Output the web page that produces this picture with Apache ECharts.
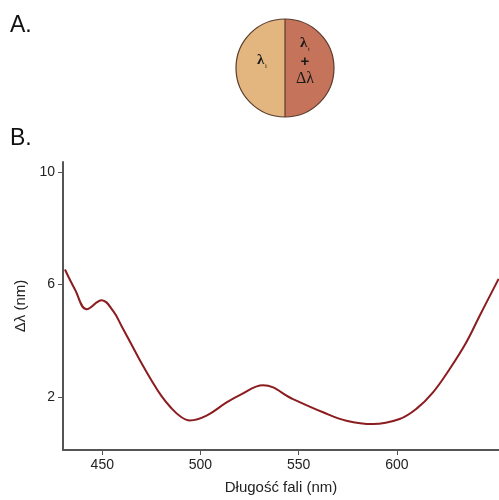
<!DOCTYPE html>
<html>
<head>
<meta charset="utf-8">
<script src="https://cdn.jsdelivr.net/npm/echarts@6/dist/echarts.min.js"></script>
<style>
html,body{margin:0;padding:0;background:#fff;}
#chart{width:499px;height:500px;}
</style>
</head>
<body>
<div id="chart"></div>
<script>
// Wavelength (nm)
const wavelengths = [431.0, 436.1, 442.1, 449.7, 455.6, 460, 465, 470, 475, 480, 485, 490, 494.6, 503.1, 513.3, 520.0, 531.9, 547.1, 562.4, 574.3, 587.8, 601.4, 609.9, 618.4, 626.8, 635.3, 642.1, 651.8];
// Δλ (nm)
const deltaLambda = [6.53, 5.82, 5.12, 5.44, 5.05, 4.5, 3.85, 3.2, 2.6, 2.05, 1.62, 1.3, 1.17, 1.34, 1.81, 2.07, 2.42, 1.93, 1.46, 1.16, 1.04, 1.22, 1.58, 2.17, 2.99, 3.94, 4.88, 6.2];
const xTicks = [450, 500, 550, 600];
const yTicks = [2, 6, 10];

const chart = echarts.init(document.getElementById('chart'));
const fontFamily = '"Liberation Sans", Arial, sans-serif';
const cx = 285, cy = 68, r = 49;

chart.setOption({
  animation: false,
  backgroundColor: '#fff',
  grid: { left: 63, right: 0, top: 162, bottom: 49, containLabel: false },
  xAxis: {
    type: 'value', min: 430, max: 652,
    name: 'Długość fali (nm)', nameLocation: 'middle', nameGap: 30,
    nameTextStyle: { fontFamily, fontSize: 15, color: '#222' },
    axisLine: { show: true, lineStyle: { color: '#555', width: 2 } },
    axisTick: { show: true, customValues: xTicks, length: 5, lineStyle: { color: '#555' } },
    axisLabel: { customValues: xTicks, fontFamily, fontSize: 14, color: '#222', margin: 8 },
    splitLine: { show: false }
  },
  yAxis: {
    type: 'value', min: 0.12, max: 10.35,
    name: 'Δλ (nm)', nameLocation: 'middle', nameGap: 30, nameRotate: 90,
    nameTextStyle: { fontFamily, fontSize: 15, color: '#222' },
    axisLine: { show: true, lineStyle: { color: '#555', width: 2 } },
    axisTick: { show: true, customValues: yTicks, length: 5, lineStyle: { color: '#555' } },
    axisLabel: { customValues: yTicks, fontFamily, fontSize: 14, color: '#222', margin: 8 },
    splitLine: { show: false }
  },
  series: [{
    type: 'line',
    data: wavelengths.map((w, i) => [w, deltaLambda[i]]),
    smooth: 0.4,
    showSymbol: false,
    lineStyle: { color: '#8b1c1f', width: 2 },
    clip: true
  }],
  graphic: [
    { type: 'text', left: 10, top: 14, style: { text: 'A.', font: '23px "Liberation Sans", Arial, sans-serif', fill: '#111' } },
    { type: 'text', left: 10, top: 127, style: { text: 'B.', font: '23px "Liberation Sans", Arial, sans-serif', fill: '#111' } },
    { type: 'sector', shape: { cx, cy, r, startAngle: Math.PI / 2, endAngle: Math.PI * 1.5 }, style: { fill: '#e3b680', stroke: null } },
    { type: 'sector', shape: { cx, cy, r, startAngle: -Math.PI / 2, endAngle: Math.PI / 2 }, style: { fill: '#c5735a', stroke: null } },
    { type: 'circle', shape: { cx, cy, r }, style: { fill: 'none', stroke: '#5a3b2c', lineWidth: 1.2 } },
    { type: 'line', shape: { x1: cx, y1: cy - r, x2: cx, y2: cy + r }, style: { stroke: '#5a3b2c', lineWidth: 1.2 } },
    { type: 'text', x: 257, y: 53, style: { text: 'λ', font: 'bold 15px "Liberation Serif", serif', fill: '#1a1a1a' } },
    { type: 'text', x: 265, y: 63, style: { text: 'i', font: '7px "Liberation Serif", serif', fill: '#1a1a1a' } },
    { type: 'text', x: 300, y: 36, style: { text: 'λ', font: 'bold 15px "Liberation Serif", serif', fill: '#1a1a1a' } },
    { type: 'text', x: 308, y: 46, style: { text: 't', font: '7px "Liberation Serif", serif', fill: '#1a1a1a' } },
    { type: 'text', x: 305, y: 54, style: { text: '+', font: 'bold 15px "Liberation Sans", sans-serif', fill: '#1a1a1a', align: 'center' } },
    { type: 'text', x: 305, y: 71, style: { text: 'Δλ', font: '16px "Liberation Serif", serif', fill: '#1a1a1a', align: 'center' } }
  ]
});
</script>
</body>
</html>
